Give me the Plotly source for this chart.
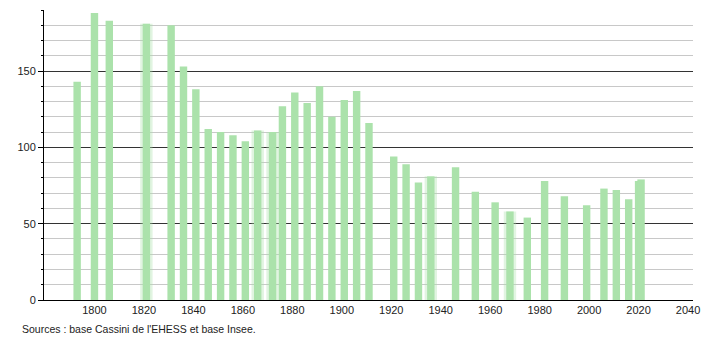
import plotly.graph_objects as go

years = [1793, 1800, 1806, 1821, 1831, 1836, 1841, 1846, 1851, 1856, 1861, 1866, 1872,
         1876, 1881, 1886, 1891, 1896, 1901, 1906, 1911, 1921, 1926, 1931, 1936, 1946,
         1954, 1962, 1968, 1975, 1982, 1990, 1999, 2006, 2011, 2016, 2020, 2021]
population = [143, 188, 183, 181, 180, 153, 138, 112, 110, 108, 104, 111, 110,
              127, 136, 129, 140, 120, 131, 137, 116, 94, 89, 77, 81, 87,
              71, 64, 58, 54, 78, 68, 62, 73, 72, 66, 78, 79]
blurred_years = [1821, 1866, 1872, 1936, 1968]
x_ticks = [1800, 1820, 1840, 1860, 1880, 1900, 1920, 1940, 1960, 1980, 2000, 2020, 2040]
source_text = "Sources : base Cassini de l'EHESS et base Insee."

bar_color = "#abe2ab"

blur_y = [population[years.index(y)] for y in blurred_years]

fig = go.Figure()
fig.add_trace(go.Bar(x=blurred_years, y=blur_y, width=5.0, marker=dict(color=bar_color, line_width=0),
                     opacity=0.35, hoverinfo="skip"))
fig.add_trace(go.Bar(x=years, y=population, width=3.0, marker=dict(color=bar_color, line_width=0)))

fig.update_layout(
    width=710, height=340,
    margin=dict(l=44, r=10, t=10, b=40),
    paper_bgcolor="white", plot_bgcolor="white",
    showlegend=False, barmode="overlay",
    font=dict(family="Liberation Sans, Arial, sans-serif", size=11, color="#222"),
    xaxis=dict(range=[1779.6, 2042], tickvals=x_ticks, ticktext=[str(t) for t in x_ticks],
               showgrid=False, zeroline=False, showline=True, linecolor="black", linewidth=1,
               ticks="", tickfont=dict(size=11)),
    yaxis=dict(range=[0, 190], tickvals=[0, 50, 100, 150], showgrid=True, gridcolor="#333",
               gridwidth=1, zeroline=False, showline=True, linecolor="black", linewidth=1,
               ticks="outside", ticklen=5, tickcolor="black",
               minor=dict(dtick=10, showgrid=True, gridcolor="#c8c8c8", gridwidth=1,
                          ticks="outside", ticklen=2, tickcolor="black"),
               tickfont=dict(size=11)),
    annotations=[dict(text=source_text, xref="paper", yref="paper", x=-0.037, y=-0.072,
                      xanchor="left", yanchor="top", showarrow=False,
                      font=dict(size=10.5, color="#222"))],
)

fig.write_html("out.html")
